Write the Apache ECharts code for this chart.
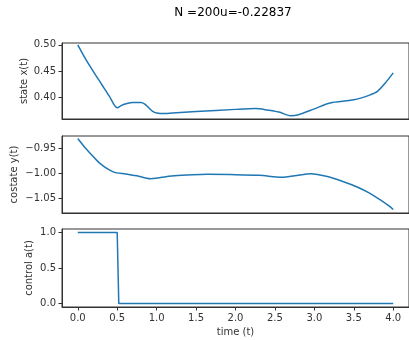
<!DOCTYPE html>
<html>
<head>
<meta charset="utf-8">
<script src="https://cdn.jsdelivr.net/npm/echarts@6/dist/echarts.min.js"></script>
<style>
  html, body { margin: 0; padding: 0; background: #fff; }
  #chart { width: 409px; height: 340px; }
</style>
</head>
<body>
<div id="chart"></div>
<script>
// Time samples and trajectories
const stateT = [0, 0.1, 0.2, 0.3, 0.4, 0.5, 0.55, 0.6, 0.7, 0.8, 0.85, 0.9, 0.95, 1.0, 1.1, 1.2, 1.5, 2.0, 2.25, 2.4, 2.55, 2.7, 2.8, 3.0, 3.2, 3.5, 3.7, 3.8, 3.9, 4.0];
const stateX = [0.5, 0.473, 0.449, 0.426, 0.403, 0.381, 0.385, 0.388, 0.391, 0.391, 0.388, 0.381, 0.374, 0.371, 0.370, 0.371, 0.374, 0.378, 0.3795, 0.377, 0.373, 0.366, 0.368, 0.379, 0.390, 0.396, 0.405, 0.412, 0.428, 0.447];

const costateT = [0, 0.08, 0.16, 0.28, 0.45, 0.61, 0.75, 0.92, 1.05, 1.19, 1.4, 1.64, 1.93, 2.3, 2.59, 2.75, 2.96, 3.15, 3.37, 3.55, 3.70, 3.85, 3.95, 4.0];
const costateY = [-0.93, -0.946, -0.96, -0.98, -0.997, -1.0014, -1.005, -1.011, -1.0085, -1.0055, -1.0035, -1.002, -1.0025, -1.004, -1.008, -1.005, -1.0008, -1.006, -1.017, -1.028, -1.04, -1.055, -1.066, -1.073];

const controlT = [0, 0.5, 0.52, 4.0];
const controlA = [1, 1, 0, 0];

const xTicks = [0, 0.5, 1.0, 1.5, 2.0, 2.5, 3.0, 3.5, 4.0];
const stateTicks = [0.40, 0.45, 0.50];
const costateTicks = [-1.05, -1.00, -0.95];
const controlTicks = [0.0, 0.5, 1.0];

const titleText = 'N =200u=-0.22837';

const FONT = 'DejaVu Sans';
const INK = '#333';
const BLUE = '#1f77b4';

const fmtMinus = (digits) => (v) => {
  const s = Math.abs(v).toFixed(digits);
  return (v < -1e-9 ? '\u2212' : '') + s;
};

const zip = (a, b) => a.map((t, i) => [t, b[i]]);

const grids = [
  { left: 62, width: 356, top: 43, height: 76 },
  { left: 62, width: 356, top: 136, height: 77 },
  { left: 62, width: 356, top: 229, height: 78 }
].map(g => Object.assign(g, { show: true, borderColor: INK, borderWidth: 1, backgroundColor: 'transparent' }));

function xAxisFor(idx, showLabels) {
  return {
    type: 'value', gridIndex: idx, min: -0.2, max: 4.2,
    axisLine: { show: true, onZero: false, lineStyle: { color: INK, width: 1 } },
    axisTick: { show: showLabels, length: 3.5, lineStyle: { color: INK }, customValues: xTicks },
    axisLabel: { show: showLabels, customValues: xTicks, formatter: fmtMinus(1), fontFamily: FONT, fontSize: 10, color: INK, margin: 6 },
    splitLine: { show: false },
    name: showLabels ? 'time (t)' : '',
    nameLocation: 'middle', nameGap: 20, nameMoveOverlap: false,
    nameTextStyle: { fontFamily: FONT, fontSize: 10, color: INK }
  };
}

function yAxisFor(idx, min, max, ticks, digits, name, gap) {
  return {
    type: 'value', gridIndex: idx, min: min, max: max,
    axisLine: { show: true, onZero: false, lineStyle: { color: INK, width: 1 } },
    axisTick: { show: true, length: 3.5, lineStyle: { color: INK }, customValues: ticks },
    axisLabel: { customValues: ticks, formatter: fmtMinus(digits), fontFamily: FONT, fontSize: 10, color: INK, margin: 6 },
    splitLine: { show: false },
    name: name, nameLocation: 'middle', nameGap: gap, nameRotate: 90, nameMoveOverlap: false,
    nameTextStyle: { fontFamily: FONT, fontSize: 10, color: INK }
  };
}

const lineSeries = (idx, data) => ({
  type: 'line', xAxisIndex: idx, yAxisIndex: idx, data: data,
  showSymbol: false, smooth: idx < 2 ? 0.3 : false, animation: false,
  lineStyle: { color: BLUE, width: 1.5 }, itemStyle: { color: BLUE }
});

const chart = echarts.init(document.getElementById('chart'), null, { renderer: 'canvas' });
chart.setOption({
  animation: false,
  backgroundColor: '#fff',
  graphic: [{
    type: 'text', x: 233, y: 13,
    style: { text: titleText, align: 'center', verticalAlign: 'middle', fontFamily: FONT, fontSize: 12, fill: '#000' }
  }],
  grid: grids,
  xAxis: [xAxisFor(0, false), xAxisFor(1, false), xAxisFor(2, true)],
  yAxis: [
    yAxisFor(0, 0.3598, 0.5035, stateTicks, 2, 'state x(t)', 33),
    yAxisFor(1, -1.08, -0.9248, costateTicks, 2, 'costate y(t)', 43),
    yAxisFor(2, -0.05, 1.05, controlTicks, 1, 'control a(t)', 28)
  ],
  series: [
    lineSeries(0, zip(stateT, stateX)),
    lineSeries(1, zip(costateT, costateY)),
    lineSeries(2, zip(controlT, controlA))
  ]
});
</script>
</body>
</html>
